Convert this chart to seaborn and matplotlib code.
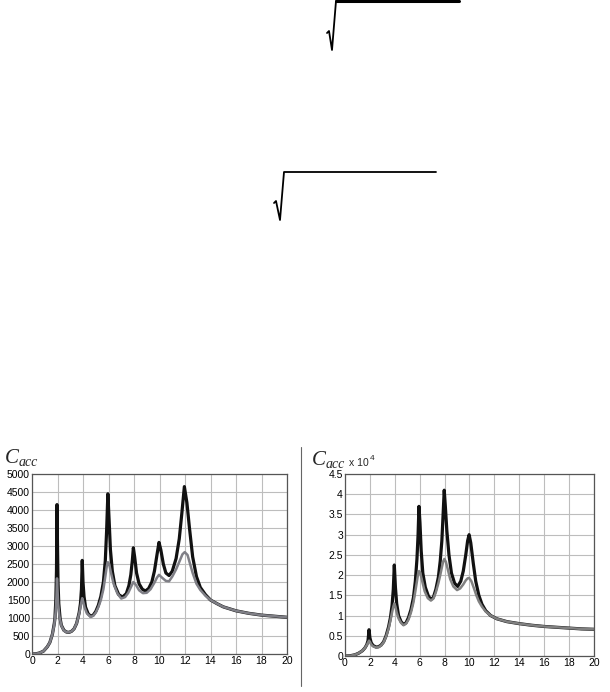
import matplotlib
matplotlib.use("Agg")
import matplotlib.pyplot as plt
from matplotlib.lines import Line2D
import seaborn as sns

# left panel: C_acc, black (upper) and grey (lower) responses
left_black_x = [0, 0.3, 0.6, 0.9, 1.2, 1.4, 1.6, 1.75, 1.8, 1.87, 1.92, 1.96, 2.0, 2.04, 2.1,
                2.2, 2.3, 2.5, 2.7, 2.9, 3.1, 3.3, 3.5, 3.7, 3.8, 3.88, 3.94, 4.0, 4.08,
                4.2, 4.4, 4.6, 4.8, 5.0, 5.2, 5.4, 5.6, 5.75, 5.85, 5.95, 6.05, 6.15, 6.3,
                6.5, 6.8, 7.1, 7.4, 7.6, 7.75, 7.87, 7.95, 8.05, 8.2, 8.4, 8.65, 8.9,
                9.15, 9.4, 9.6, 9.8, 9.96, 10.1, 10.3, 10.5, 10.75, 11.0, 11.3, 11.55,
                11.75, 11.95, 12.15, 12.35, 12.6, 12.9, 13.2, 13.6, 14, 14.5, 15, 16, 17,
                18, 19, 20]
left_black_y = [0, 5, 30, 80, 200, 320, 550, 850, 1000, 1500, 2300, 4150, 3000, 2000, 1400,
                1000, 800, 660, 610, 600, 630, 700, 850, 1150, 1400, 1800, 2600, 2000, 1600,
                1300, 1120, 1050, 1080, 1180, 1350, 1600, 2000, 2600, 3400, 4450, 3700, 2900, 2300,
                1900, 1650, 1580, 1680, 1900, 2200, 2600, 2950, 2700, 2250, 1950, 1800, 1750,
                1820, 2000, 2300, 2750, 3100, 2900, 2500, 2250, 2180, 2300, 2650, 3200,
                3900, 4650, 4200, 3500, 2700, 2150, 1850, 1650, 1500, 1400, 1310, 1200, 1130,
                1080, 1050, 1020]
left_grey_x = [0, 0.3, 0.6, 0.9, 1.2, 1.4, 1.6, 1.75, 1.85, 1.92, 1.96, 2.0, 2.05, 2.15,
               2.3, 2.5, 2.7, 2.9, 3.1, 3.3, 3.5, 3.7, 3.8, 3.88, 3.94, 4.02, 4.12, 4.3,
               4.6, 4.8, 5.0, 5.2, 5.4, 5.6, 5.75, 5.87, 5.95, 6.05, 6.2, 6.4, 6.7, 7.0,
               7.3, 7.55, 7.75, 7.95, 8.15, 8.4, 8.7, 9.0, 9.3, 9.6, 9.8, 9.96, 10.2,
               10.5, 10.75, 11.0, 11.3, 11.6, 11.8, 11.98, 12.2, 12.4, 12.6, 12.9, 13.2,
               13.6, 14, 14.5, 15, 16, 17, 18, 19, 20]
left_grey_y = [0, 5, 30, 80, 200, 320, 550, 820, 1150, 1600, 2100, 1800, 1400, 1050,
               790, 650, 610, 600, 630, 700, 850, 1120, 1300, 1450, 1550, 1450, 1300, 1130,
               1030, 1060, 1150, 1300, 1500, 1800, 2150, 2450, 2550, 2500, 2250, 1950, 1680, 1540,
               1580, 1700, 1850, 2000, 1920, 1770, 1690, 1700, 1800, 1980, 2120, 2200, 2120,
               2030, 2020, 2150, 2350, 2600, 2770, 2830, 2750, 2500, 2250, 1950, 1780,
               1620, 1500, 1400, 1310, 1200, 1130, 1080, 1050, 1020]

# right panel: C_acc x 10^4
right_black_x = [0, 0.4, 0.8, 1.1, 1.4, 1.6, 1.75, 1.85, 1.93, 2.0, 2.1, 2.25, 2.5, 2.7,
                 2.9, 3.1, 3.3, 3.5, 3.65, 3.78, 3.88, 3.96, 4.05, 4.15, 4.3, 4.5, 4.7,
                 4.9, 5.1, 5.3, 5.5, 5.65, 5.78, 5.87, 5.94, 6.02, 6.12, 6.25, 6.45, 6.7,
                 6.9, 7.1, 7.3, 7.5, 7.65, 7.78, 7.88, 7.97, 8.06, 8.18, 8.35, 8.55, 8.8,
                 9.05, 9.3, 9.5, 9.7, 9.85, 9.97, 10.1, 10.3, 10.5, 10.75, 11.0, 11.3,
                 11.7, 12.2, 13, 14, 15, 16, 17, 18, 19, 20]
right_black_y = [0, 0.005, 0.03, 0.07, 0.13, 0.2, 0.28, 0.38, 0.65, 0.45, 0.33, 0.26, 0.22, 0.23,
                 0.27, 0.35, 0.5, 0.72, 0.95, 1.25, 1.65, 2.25, 1.7, 1.3, 1.0, 0.85, 0.78,
                 0.82, 0.95, 1.15, 1.45, 1.85, 2.4, 3.0, 3.7, 3.3, 2.6, 2.05, 1.7, 1.48,
                 1.4, 1.45, 1.65, 1.95, 2.35, 2.85, 3.5, 4.1, 3.7, 3.1, 2.5, 2.05, 1.8,
                 1.72, 1.85, 2.1, 2.5, 2.85, 3.0, 2.8, 2.3, 1.85, 1.5, 1.28, 1.12,
                 1.0, 0.92, 0.85, 0.8, 0.76, 0.73, 0.71, 0.69, 0.67, 0.66]
right_grey_x = [0, 0.4, 0.8, 1.1, 1.4, 1.6, 1.75, 1.85, 1.93, 2.0, 2.1, 2.25, 2.5, 2.7,
                2.9, 3.1, 3.3, 3.5, 3.65, 3.78, 3.88, 3.96, 4.05, 4.15, 4.3, 4.5, 4.7,
                4.9, 5.1, 5.3, 5.5, 5.65, 5.78, 5.87, 5.95, 6.05, 6.2, 6.4, 6.65, 6.9,
                7.1, 7.3, 7.5, 7.65, 7.8, 7.9, 7.98, 8.1, 8.25, 8.45, 8.7, 9.0, 9.25,
                9.5, 9.7, 9.85, 9.97, 10.15, 10.35, 10.55, 10.75, 11.0, 11.3, 11.7, 12.2,
                13, 14, 15, 16, 17, 18, 19, 20]
right_grey_y = [0, 0.005, 0.03, 0.07, 0.13, 0.2, 0.27, 0.33, 0.38, 0.35, 0.29, 0.24, 0.21, 0.22,
                0.26, 0.34, 0.48, 0.68, 0.88, 1.08, 1.22, 1.3, 1.22, 1.08, 0.93, 0.82, 0.76,
                0.8, 0.9, 1.08, 1.33, 1.6, 1.85, 2.03, 2.1, 2.05, 1.85, 1.6, 1.43, 1.37,
                1.42, 1.58, 1.8, 2.0, 2.22, 2.35, 2.4, 2.33, 2.15, 1.9, 1.72, 1.63, 1.67,
                1.77, 1.87, 1.92, 1.93, 1.85, 1.68, 1.5, 1.35, 1.22, 1.1, 1.0, 0.92,
                0.85, 0.8, 0.76, 0.73, 0.71, 0.69, 0.67, 0.66]

x_ticks = list(range(0, 21, 2))
left_y_ticks = list(range(0, 5001, 500))
right_y_ticks = [0, 0.5, 1, 1.5, 2, 2.5, 3, 3.5, 4, 4.5]
right_y_labels = ["0", "0.5", "1", "1.5", "2", "2.5", "3", "3.5", "4", "4.5"]

sns.set_style("white")
plt.rcParams["font.family"] = ["Liberation Sans", "DejaVu Sans"]

W, H = 610, 692
fig = plt.figure(figsize=(W / 100, H / 100), dpi=100)


def px(x0, y0, x1, y1):
    # pixel box -> figure fraction [left, bottom, width, height]
    return [x0 / W, 1 - y1 / H, (x1 - x0) / W, (y1 - y0) / H]


def style_axes(ax, ymax, yticks, ylabels=None):
    ax.set_xlim(0, 20)
    ax.set_ylim(0, ymax)
    ax.set_xticks(x_ticks)
    ax.set_yticks(yticks)
    if ylabels is not None:
        ax.set_yticklabels(ylabels)
    ax.grid(True, color="#bdbdbd", lw=0.8)
    ax.tick_params(labelsize=7.5, pad=1.5, length=0, labelcolor="black")
    for s in ax.spines.values():
        s.set_color("#555555")
        s.set_linewidth(0.9)
    ax.set_xlabel("")
    ax.set_ylabel("")


ax1 = fig.add_axes(px(32, 474, 287, 654))
sns.lineplot(x=left_black_x, y=left_black_y, ax=ax1, color="#111111", lw=2.3)
sns.lineplot(x=left_grey_x, y=left_grey_y, ax=ax1, color="#7f7f86", lw=1.8)
style_axes(ax1, 5000, left_y_ticks)

ax2 = fig.add_axes(px(345, 474, 594, 656))
sns.lineplot(x=right_black_x, y=right_black_y, ax=ax2, color="#111111", lw=2.3)
sns.lineplot(x=right_grey_x, y=right_grey_y, ax=ax2, color="#808080", lw=1.8)
style_axes(ax2, 4.5, right_y_ticks, right_y_labels)

# axis captions
serif = dict(family="Liberation Serif", style="italic", va="baseline")
fig.text(5 / W, 1 - 463 / H, "C", fontsize=15, **serif)
fig.text(19 / W, 1 - 466 / H, "acc", fontsize=10, **serif)
fig.text(312 / W, 1 - 465 / H, "C", fontsize=15, **serif)
fig.text(326 / W, 1 - 468 / H, "acc", fontsize=10, **serif)
fig.text(349 / W, 1 - 466 / H, "x 10", fontsize=7.5, va="baseline")
fig.text(370 / W, 1 - 460 / H, "4", fontsize=6, va="baseline")


def fig_line(xs, ys, **kw):
    fig.add_artist(Line2D([x / W for x in xs], [1 - y / H for y in ys],
                          transform=fig.transFigure, **kw))


# radical signs at the top of the page
fig_line([327, 329, 332, 336, 459], [33, 31, 50, 1, 1], color="black", lw=1.3)
fig_line([336, 459], [1, 1], color="black", lw=2.2)
fig_line([274, 276, 280, 284, 436], [203, 201, 220, 172, 172], color="black", lw=1.3)

# divider between the two panels
fig_line([301, 301], [447, 686], color="#666666", lw=0.8)

fig.savefig("out.png", dpi=100, facecolor="white")
